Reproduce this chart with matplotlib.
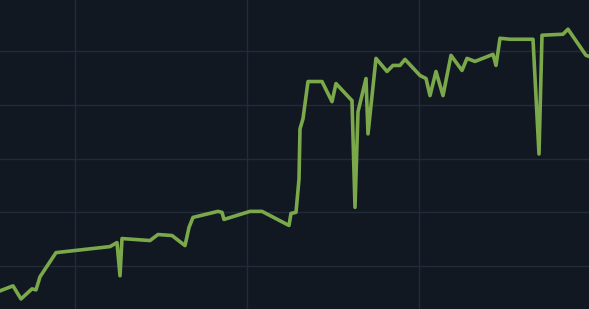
import matplotlib.pyplot as plt
from matplotlib.ticker import MultipleLocator

# readings (x = time step, y = value)
t = [0, 13, 21, 32, 36, 40, 56, 110, 117, 120, 122, 150, 158, 172, 185, 189, 193,
     218, 222, 224, 250, 262, 289, 291, 296, 299, 300, 303, 308, 322, 332, 336, 352,
     355, 358, 366, 368, 373, 376, 387, 393, 400, 405, 420, 426, 430, 436, 443, 451,
     462, 467, 475, 493, 496, 500, 510, 533, 539, 542, 563, 568, 586, 589]
py = [291, 286, 299, 289, 290, 277, 253, 247, 243, 276, 239, 241, 235, 236, 246, 228, 218,
      212, 213, 220, 212, 212, 226, 214, 213, 180, 130, 120, 83, 83, 103, 85, 102,
      208, 113, 80, 135, 88, 60, 73, 67, 67, 61, 77, 80, 97, 73, 97, 57,
      72, 60, 63, 56, 67, 40, 41, 41, 155, 37, 36, 31, 57, 58]
vals = [309 - p for p in py]

bg = '#111822'
fig = plt.figure(figsize=(5.89, 3.09), dpi=100, facecolor=bg)
ax = fig.add_axes([0, 0, 1, 1], facecolor=bg)

ax.plot(t, vals, color='#7aa84a', lw=2.6, solid_joinstyle='round')

ax.set_xlim(0, 589)
ax.set_ylim(0, 307)
ax.xaxis.set_major_locator(MultipleLocator(172, offset=75))
ax.yaxis.set_major_locator(MultipleLocator(53.25, offset=43))
ax.grid(True, color='#222c38', lw=1)
ax.set_axisbelow(True)
ax.tick_params(length=0, labelbottom=False, labelleft=False)
for s in ax.spines.values():
    s.set_visible(False)

fig.savefig('out.png', dpi=100, facecolor=bg)
